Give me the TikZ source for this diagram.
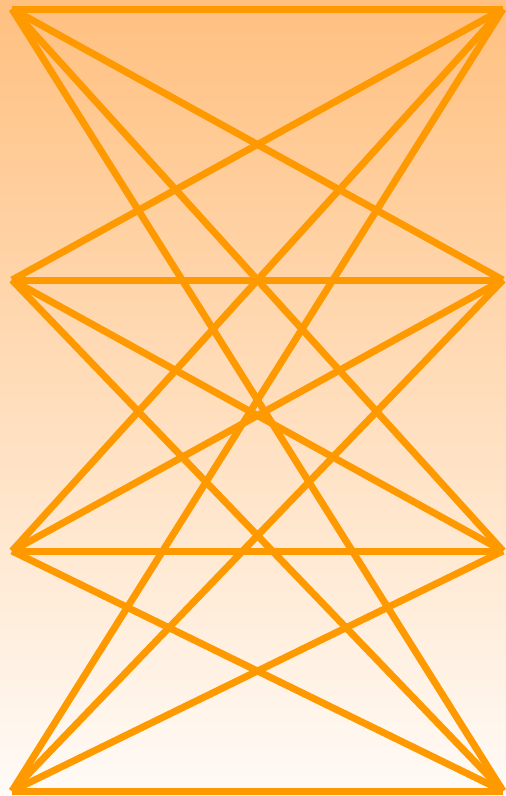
\documentclass[tikz,border=0pt]{standalone}
\usetikzlibrary{calc}
\definecolor{edgeorange}{RGB}{255,153,0}
\definecolor{bgtop}{RGB}{255,192,128}
\definecolor{bgbottom}{RGB}{255,251,247}
\tikzset{
  edge/.style={draw=edgeorange, line width=7pt, line cap=butt, line join=miter},
}
\begin{document}
\begin{tikzpicture}[x=1pt,y=-1pt]
\useasboundingbox (0,0) rectangle (506,796);
\shade[top color=bgtop, bottom color=bgbottom] (0,0) rectangle (506,796);
\coordinate (L0) at (12,9);
\coordinate (L1) at (12,280);
\coordinate (L2) at (12,551);
\coordinate (L3) at (12,791);
\coordinate (R0) at (503,9);
\coordinate (R1) at (503,280);
\coordinate (R2) at (503,551);
\coordinate (R3) at (503,791);
\foreach \i in {0,1,2,3}{
  \foreach \j in {0,1,2,3}{
    \draw[edge] (L\i) -- (R\j);
  }
}
\end{tikzpicture}
\end{document}
